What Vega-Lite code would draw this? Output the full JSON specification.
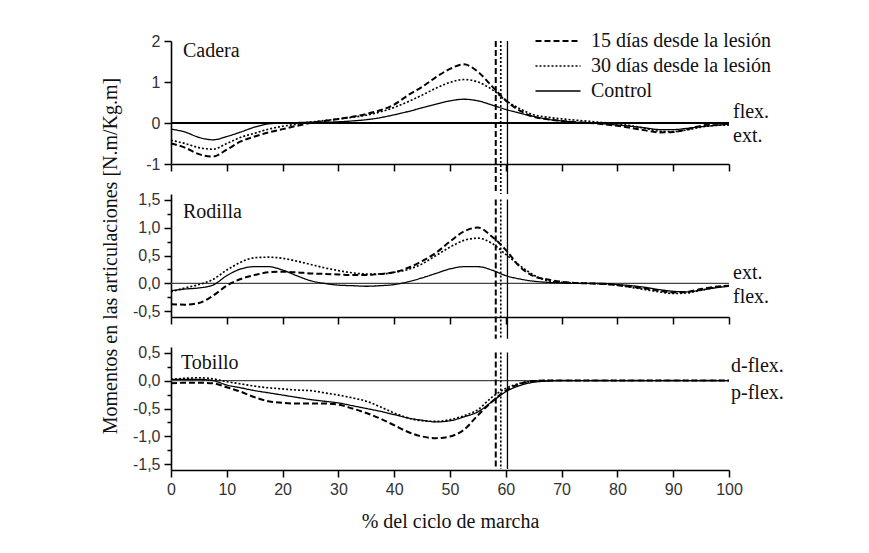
{
  "$schema": "https://vega.github.io/schema/vega-lite/v6.json",
  "padding": {"left": 100, "top": 31, "right": 5, "bottom": 5},
  "background": "#ffffff",
  "bounds": "flush",
  "spacing": 30,
  "config": {
    "view": {"stroke": null},
    "font": "Liberation Serif",
    "axis": {
      "domainColor": "#000000",
      "domainWidth": 1.6,
      "tickColor": "#000000",
      "tickWidth": 1.5,
      "labelFont": "Liberation Sans",
      "labelFontSize": 16,
      "labelColor": "#333333",
      "labelPadding": 4,
      "labelOverlap": false,
      "labelFlush": false,
      "titleFont": "Liberation Serif",
      "titleFontSize": 20,
      "titleFontWeight": "normal",
      "titleColor": "#111111",
      "grid": false
    },
    "legend": {
      "labelFont": "Liberation Serif",
      "labelFontSize": 20,
      "labelColor": "#111111",
      "labelLimit": 500
    },
    "text": {"font": "Liberation Serif", "fontSize": 20, "color": "#111111"}
  },
  "resolve": {
    "scale": {"x": "independent", "y": "independent", "strokeDash": "independent", "strokeWidth": "independent"},
    "legend": {"strokeDash": "independent", "strokeWidth": "independent"}
  },
  "datasets": {
    "cadera": [
      {"x": 0, "15 días desde la lesión": -0.5, "30 días desde la lesión": -0.42, "Control": -0.15},
      {"x": 2.5, "15 días desde la lesión": -0.6, "30 días desde la lesión": -0.5, "Control": -0.22},
      {"x": 5, "15 días desde la lesión": -0.76, "30 días desde la lesión": -0.6, "Control": -0.35},
      {"x": 7.5, "15 días desde la lesión": -0.82, "30 días desde la lesión": -0.64, "Control": -0.41},
      {"x": 10, "15 días desde la lesión": -0.65, "30 días desde la lesión": -0.5, "Control": -0.33},
      {"x": 12.5, "15 días desde la lesión": -0.45, "30 días desde la lesión": -0.35, "Control": -0.22},
      {"x": 15, "15 días desde la lesión": -0.33, "30 días desde la lesión": -0.25, "Control": -0.1},
      {"x": 17.5, "15 días desde la lesión": -0.23, "30 días desde la lesión": -0.15, "Control": -0.02},
      {"x": 20, "15 días desde la lesión": -0.15, "30 días desde la lesión": -0.08, "Control": 0.0},
      {"x": 22.5, "15 días desde la lesión": -0.07, "30 días desde la lesión": -0.03, "Control": 0.01},
      {"x": 25, "15 días desde la lesión": 0.0, "30 días desde la lesión": 0.02, "Control": 0.02},
      {"x": 27.5, "15 días desde la lesión": 0.05, "30 días desde la lesión": 0.06, "Control": 0.02},
      {"x": 30, "15 días desde la lesión": 0.1, "30 días desde la lesión": 0.1, "Control": 0.03},
      {"x": 32.5, "15 días desde la lesión": 0.15, "30 días desde la lesión": 0.14, "Control": 0.05},
      {"x": 35, "15 días desde la lesión": 0.22, "30 días desde la lesión": 0.19, "Control": 0.08},
      {"x": 37.5, "15 días desde la lesión": 0.31, "30 días desde la lesión": 0.27, "Control": 0.13},
      {"x": 40, "15 días desde la lesión": 0.45, "30 días desde la lesión": 0.38, "Control": 0.2},
      {"x": 42.5, "15 días desde la lesión": 0.68, "30 días desde la lesión": 0.52, "Control": 0.28},
      {"x": 45, "15 días desde la lesión": 0.88, "30 días desde la lesión": 0.68, "Control": 0.37},
      {"x": 47.5, "15 días desde la lesión": 1.12, "30 días desde la lesión": 0.85, "Control": 0.46},
      {"x": 50, "15 días desde la lesión": 1.32, "30 días desde la lesión": 0.99, "Control": 0.54},
      {"x": 52.5, "15 días desde la lesión": 1.43, "30 días desde la lesión": 1.06, "Control": 0.58},
      {"x": 55, "15 días desde la lesión": 1.25, "30 días desde la lesión": 1.0, "Control": 0.54},
      {"x": 57.5, "15 días desde la lesión": 0.9, "30 días desde la lesión": 0.82, "Control": 0.44},
      {"x": 60, "15 días desde la lesión": 0.55, "30 días desde la lesión": 0.55, "Control": 0.33},
      {"x": 62.5, "15 días desde la lesión": 0.3, "30 días desde la lesión": 0.35, "Control": 0.24},
      {"x": 65, "15 días desde la lesión": 0.15, "30 días desde la lesión": 0.2, "Control": 0.16},
      {"x": 67.5, "15 días desde la lesión": 0.09, "30 días desde la lesión": 0.14, "Control": 0.09},
      {"x": 70, "15 días desde la lesión": 0.05, "30 días desde la lesión": 0.1, "Control": 0.05},
      {"x": 72.5, "15 días desde la lesión": 0.02, "30 días desde la lesión": 0.07, "Control": 0.02},
      {"x": 75, "15 días desde la lesión": 0.0, "30 días desde la lesión": 0.04, "Control": 0.0},
      {"x": 77.5, "15 días desde la lesión": -0.03, "30 días desde la lesión": 0.01, "Control": -0.02},
      {"x": 80, "15 días desde la lesión": -0.07, "30 días desde la lesión": -0.02, "Control": -0.05},
      {"x": 82.5, "15 días desde la lesión": -0.12, "30 días desde la lesión": -0.07, "Control": -0.08},
      {"x": 85, "15 días desde la lesión": -0.18, "30 días desde la lesión": -0.13, "Control": -0.12},
      {"x": 87.5, "15 días desde la lesión": -0.23, "30 días desde la lesión": -0.2, "Control": -0.16},
      {"x": 90, "15 días desde la lesión": -0.22, "30 días desde la lesión": -0.21, "Control": -0.16},
      {"x": 92.5, "15 días desde la lesión": -0.15, "30 días desde la lesión": -0.17, "Control": -0.13},
      {"x": 95, "15 días desde la lesión": -0.07, "30 días desde la lesión": -0.1, "Control": -0.09},
      {"x": 97.5, "15 días desde la lesión": -0.02, "30 días desde la lesión": -0.06, "Control": -0.06},
      {"x": 100, "15 días desde la lesión": -0.02, "30 días desde la lesión": -0.05, "Control": -0.03}
    ],
    "rodilla": [
      {"x": 0, "15 días desde la lesión": -0.37, "30 días desde la lesión": -0.15, "Control": -0.13},
      {"x": 2.5, "15 días desde la lesión": -0.38, "30 días desde la lesión": -0.08, "Control": -0.1},
      {"x": 5, "15 días desde la lesión": -0.35, "30 días desde la lesión": -0.02, "Control": -0.08},
      {"x": 7.5, "15 días desde la lesión": -0.22, "30 días desde la lesión": 0.07, "Control": -0.03},
      {"x": 10, "15 días desde la lesión": -0.04, "30 días desde la lesión": 0.24, "Control": 0.14},
      {"x": 12.5, "15 días desde la lesión": 0.08, "30 días desde la lesión": 0.38, "Control": 0.26},
      {"x": 15, "15 días desde la lesión": 0.15, "30 días desde la lesión": 0.46, "Control": 0.3},
      {"x": 17.5, "15 días desde la lesión": 0.2, "30 días desde la lesión": 0.47, "Control": 0.3},
      {"x": 20, "15 días desde la lesión": 0.21, "30 días desde la lesión": 0.45, "Control": 0.24},
      {"x": 22.5, "15 días desde la lesión": 0.2, "30 días desde la lesión": 0.4, "Control": 0.14},
      {"x": 25, "15 días desde la lesión": 0.18, "30 días desde la lesión": 0.34, "Control": 0.05},
      {"x": 27.5, "15 días desde la lesión": 0.17, "30 días desde la lesión": 0.28, "Control": 0.0},
      {"x": 30, "15 días desde la lesión": 0.16, "30 días desde la lesión": 0.23, "Control": -0.03},
      {"x": 32.5, "15 días desde la lesión": 0.15, "30 días desde la lesión": 0.19, "Control": -0.04},
      {"x": 35, "15 días desde la lesión": 0.15, "30 días desde la lesión": 0.17, "Control": -0.05},
      {"x": 37.5, "15 días desde la lesión": 0.17, "30 días desde la lesión": 0.17, "Control": -0.04},
      {"x": 40, "15 días desde la lesión": 0.2, "30 días desde la lesión": 0.2, "Control": -0.02},
      {"x": 42.5, "15 días desde la lesión": 0.28, "30 días desde la lesión": 0.25, "Control": 0.03},
      {"x": 45, "15 días desde la lesión": 0.4, "30 días desde la lesión": 0.35, "Control": 0.1},
      {"x": 47.5, "15 días desde la lesión": 0.55, "30 días desde la lesión": 0.5, "Control": 0.18},
      {"x": 50, "15 días desde la lesión": 0.75, "30 días desde la lesión": 0.65, "Control": 0.26},
      {"x": 52.5, "15 días desde la lesión": 0.93, "30 días desde la lesión": 0.77, "Control": 0.3},
      {"x": 55, "15 días desde la lesión": 1.0, "30 días desde la lesión": 0.81, "Control": 0.3},
      {"x": 57.5, "15 días desde la lesión": 0.84, "30 días desde la lesión": 0.72, "Control": 0.24},
      {"x": 60, "15 días desde la lesión": 0.6, "30 días desde la lesión": 0.52, "Control": 0.14},
      {"x": 62.5, "15 días desde la lesión": 0.3, "30 días desde la lesión": 0.32, "Control": 0.08},
      {"x": 65, "15 días desde la lesión": 0.13, "30 días desde la lesión": 0.15, "Control": 0.04},
      {"x": 67.5, "15 días desde la lesión": 0.07, "30 días desde la lesión": 0.05, "Control": 0.02},
      {"x": 70, "15 días desde la lesión": 0.03, "30 días desde la lesión": 0.02, "Control": 0.01},
      {"x": 72.5, "15 días desde la lesión": 0.01, "30 días desde la lesión": 0.01, "Control": 0.0},
      {"x": 75, "15 días desde la lesión": 0.0, "30 días desde la lesión": 0.0, "Control": 0.0},
      {"x": 77.5, "15 días desde la lesión": -0.01, "30 días desde la lesión": -0.01, "Control": 0.0},
      {"x": 80, "15 días desde la lesión": -0.03, "30 días desde la lesión": -0.03, "Control": -0.02},
      {"x": 82.5, "15 días desde la lesión": -0.06, "30 días desde la lesión": -0.07, "Control": -0.04},
      {"x": 85, "15 días desde la lesión": -0.09, "30 días desde la lesión": -0.11, "Control": -0.07},
      {"x": 87.5, "15 días desde la lesión": -0.13, "30 días desde la lesión": -0.15, "Control": -0.11},
      {"x": 90, "15 días desde la lesión": -0.16, "30 días desde la lesión": -0.18, "Control": -0.14},
      {"x": 92.5, "15 días desde la lesión": -0.15, "30 días desde la lesión": -0.17, "Control": -0.15},
      {"x": 95, "15 días desde la lesión": -0.1, "30 días desde la lesión": -0.12, "Control": -0.12},
      {"x": 97.5, "15 días desde la lesión": -0.06, "30 días desde la lesión": -0.07, "Control": -0.08},
      {"x": 100, "15 días desde la lesión": -0.04, "30 días desde la lesión": -0.04, "Control": -0.05}
    ],
    "tobillo": [
      {"x": 0, "15 días desde la lesión": -0.05, "30 días desde la lesión": 0.02, "Control": 0.02},
      {"x": 2.5, "15 días desde la lesión": -0.04, "30 días desde la lesión": 0.04, "Control": 0.02},
      {"x": 5, "15 días desde la lesión": -0.04, "30 días desde la lesión": 0.05, "Control": 0.02},
      {"x": 7.5, "15 días desde la lesión": -0.05, "30 días desde la lesión": 0.03, "Control": 0.0},
      {"x": 10, "15 días desde la lesión": -0.12, "30 días desde la lesión": -0.02, "Control": -0.08},
      {"x": 12.5, "15 días desde la lesión": -0.2, "30 días desde la lesión": -0.06, "Control": -0.13},
      {"x": 15, "15 días desde la lesión": -0.3, "30 días desde la lesión": -0.1, "Control": -0.18},
      {"x": 17.5, "15 días desde la lesión": -0.37, "30 días desde la lesión": -0.13, "Control": -0.22},
      {"x": 20, "15 días desde la lesión": -0.4, "30 días desde la lesión": -0.15, "Control": -0.26},
      {"x": 22.5, "15 días desde la lesión": -0.41, "30 días desde la lesión": -0.17, "Control": -0.3},
      {"x": 25, "15 días desde la lesión": -0.41, "30 días desde la lesión": -0.18, "Control": -0.34},
      {"x": 27.5, "15 días desde la lesión": -0.41, "30 días desde la lesión": -0.22, "Control": -0.37},
      {"x": 30, "15 días desde la lesión": -0.43, "30 días desde la lesión": -0.26, "Control": -0.4},
      {"x": 32.5, "15 días desde la lesión": -0.5, "30 días desde la lesión": -0.31, "Control": -0.45},
      {"x": 35, "15 días desde la lesión": -0.58, "30 días desde la lesión": -0.37, "Control": -0.5},
      {"x": 37.5, "15 días desde la lesión": -0.68, "30 días desde la lesión": -0.47, "Control": -0.55},
      {"x": 40, "15 días desde la lesión": -0.8, "30 días desde la lesión": -0.58, "Control": -0.61},
      {"x": 42.5, "15 días desde la lesión": -0.92, "30 días desde la lesión": -0.67, "Control": -0.67},
      {"x": 45, "15 días desde la lesión": -1.0, "30 días desde la lesión": -0.72, "Control": -0.71},
      {"x": 47.5, "15 días desde la lesión": -1.03, "30 días desde la lesión": -0.73, "Control": -0.74},
      {"x": 50, "15 días desde la lesión": -1.0, "30 días desde la lesión": -0.7, "Control": -0.72},
      {"x": 52.5, "15 días desde la lesión": -0.88, "30 días desde la lesión": -0.63, "Control": -0.65},
      {"x": 55, "15 días desde la lesión": -0.62, "30 días desde la lesión": -0.52, "Control": -0.56},
      {"x": 57.5, "15 días desde la lesión": -0.38, "30 días desde la lesión": -0.3, "Control": -0.38},
      {"x": 60, "15 días desde la lesión": -0.18, "30 días desde la lesión": -0.14, "Control": -0.2},
      {"x": 62.5, "15 días desde la lesión": -0.06, "30 días desde la lesión": -0.05, "Control": -0.09},
      {"x": 65, "15 días desde la lesión": -0.01, "30 días desde la lesión": -0.01, "Control": -0.03},
      {"x": 67.5, "15 días desde la lesión": 0.0, "30 días desde la lesión": 0.0, "Control": -0.01},
      {"x": 70, "15 días desde la lesión": 0.0, "30 días desde la lesión": 0.0, "Control": 0.0},
      {"x": 75, "15 días desde la lesión": 0.0, "30 días desde la lesión": 0.0, "Control": 0.0},
      {"x": 80, "15 días desde la lesión": 0.0, "30 días desde la lesión": 0.0, "Control": 0.0},
      {"x": 85, "15 días desde la lesión": 0.0, "30 días desde la lesión": 0.0, "Control": 0.0},
      {"x": 90, "15 días desde la lesión": 0.0, "30 días desde la lesión": 0.0, "Control": 0.0},
      {"x": 95, "15 días desde la lesión": 0.0, "30 días desde la lesión": 0.0, "Control": 0.0},
      {"x": 100, "15 días desde la lesión": 0.0, "30 días desde la lesión": 0.0, "Control": 0.0}
    ],
    "marcas": [
      {"x": 58.2, "serie": "15 días desde la lesión"},
      {"x": 59.1, "serie": "30 días desde la lesión"},
      {"x": 60.3, "serie": "Control"}
    ]
  },
  "vconcat": [
    {
      "width": 558,
      "height": 123,
      "layer": [
        {
          "data": {"values": [{"ref": 0}]},
          "mark": {"type": "rule", "color": "#000000", "strokeWidth": 2},
          "encoding": {"x": {"datum": 0}, "x2": {"datum": 100}, "y": {"field": "ref", "type": "quantitative"}}
        },
        {
          "data": {"name": "cadera"},
          "transform": [{"fold": ["15 días desde la lesión", "30 días desde la lesión", "Control"], "as": ["serie", "momento"]}],
          "mark": {"type": "line", "interpolate": "monotone", "color": "#000000"},
          "encoding": {
            "x": {"field": "x", "type": "quantitative", "scale": {"domain": [0, 100]},
              "axis": {"values": [0, 5, 10, 15, 20, 25, 30, 35, 40, 45, 50, 55, 60, 65, 70, 75, 80, 85, 90, 95, 100], "labels": false, "title": null,
                "tickSize": {"condition": {"test": "datum.value % 10 === 0", "value": 7}, "value": 4}}},
            "y": {"field": "momento", "type": "quantitative", "scale": {"domain": [-1, 2]},
              "axis": {"values": [-1, -0.5, 0, 0.5, 1, 1.5, 2], "title": null, "labelOverlap": false,
                "labelExpr": "datum.value === 2 ? '2' : datum.value === 1 ? '1' : datum.value === 0 ? '0' : datum.value === -1 ? '-1' : ''",
                "tickSize": {"condition": {"test": "datum.value % 1 === 0", "value": 7}, "value": 4}}},
            "strokeDash": {"field": "serie", "type": "nominal",
              "scale": {"domain": ["15 días desde la lesión", "30 días desde la lesión", "Control"], "range": [[6, 3], [2, 2], [1, 0]]},
              "legend": {"title": null, "orient": "none", "legendX": 377, "legendY": -10, "symbolType": "M-3,0H3", "symbolSize": 225, "symbolFillColor": "transparent", "symbolStrokeColor": "#000000", "rowPadding": 5, "labelOffset": 23}},
            "strokeWidth": {"field": "serie", "type": "nominal",
              "scale": {"domain": ["15 días desde la lesión", "30 días desde la lesión", "Control"], "range": [2, 1.3, 1.6]},
              "legend": {"title": null, "orient": "none", "legendX": 377, "legendY": -10, "symbolType": "M-3,0H3", "symbolSize": 225, "symbolFillColor": "transparent", "symbolStrokeColor": "#000000", "rowPadding": 5, "labelOffset": 23}}
          }
        },
        {
          "data": {"name": "marcas"},
          "mark": {"type": "rule", "color": "#000000"},
          "encoding": {
            "x": {"field": "x", "type": "quantitative"},
            "y": {"datum": 2},
            "y2": {"datum": -1.73},
            "strokeDash": {"field": "serie", "type": "nominal"},
            "strokeWidth": {"field": "serie", "type": "nominal"}
          }
        },
        {
          "data": {"values": [{"etiqueta": "Cadera"}]},
          "mark": {"type": "text", "align": "left", "baseline": "middle", "dx": 12, "dy": 10, "font": "Liberation Serif"},
          "encoding": {"x": {"datum": 0}, "y": {"datum": 2}, "text": {"field": "etiqueta"}}
        },
        {
          "data": {"values": [{"etiqueta": "flex."}]},
          "mark": {"type": "text", "align": "left", "baseline": "middle", "dx": 4, "dy": -11, "font": "Liberation Serif"},
          "encoding": {"x": {"datum": 100}, "y": {"datum": 0}, "text": {"field": "etiqueta"}}
        },
        {
          "data": {"values": [{"etiqueta": "ext."}]},
          "mark": {"type": "text", "align": "left", "baseline": "middle", "dx": 4, "dy": 13, "font": "Liberation Serif"},
          "encoding": {"x": {"datum": 100}, "y": {"datum": 0}, "text": {"field": "etiqueta"}}
        }
      ]
    },
    {
      "width": 558,
      "height": 123,
      "resolve": {"axis": {"y": "independent"}},
      "layer": [
        {
          "data": {"values": [{"ref": 0}]},
          "mark": {"type": "rule", "color": "#444444", "strokeWidth": 1.2},
          "encoding": {"x": {"datum": 0}, "x2": {"datum": 100},
            "y": {"field": "ref", "type": "quantitative", "scale": {"domain": [-0.5, 1.5]},
              "axis": {"orient": "left", "values": [-0.25, 0.25, 0.75, 1.25], "labels": false, "domain": false, "tickSize": 4, "title": null}}}
        },
        {
          "data": {"name": "rodilla"},
          "transform": [{"fold": ["15 días desde la lesión", "30 días desde la lesión", "Control"], "as": ["serie", "momento"]}],
          "mark": {"type": "line", "interpolate": "monotone", "color": "#000000"},
          "encoding": {
            "x": {"field": "x", "type": "quantitative", "scale": {"domain": [0, 100]},
              "axis": {"values": [0, 5, 10, 15, 20, 25, 30, 35, 40, 45, 50, 55, 60, 65, 70, 75, 80, 85, 90, 95, 100], "labels": false, "title": null,
                "tickSize": {"condition": {"test": "datum.value % 10 === 0", "value": 7}, "value": 4}}},
            "y": {"field": "momento", "type": "quantitative", "scale": {"domain": [-0.5, 1.5]},
              "axis": {"orient": "left", "values": [-0.5, 0, 0.5, 1, 1.5], "title": "Momentos en las articulaciones [N.m/Kg.m]", "titlePadding": 12, "titleFont": "Liberation Serif", "labelOverlap": false, "tickSize": 7,
                "labelExpr": "datum.value === 1.5 ? '1,5' : datum.value === 1 ? '1,0' : datum.value === 0.5 ? '0,5' : datum.value === 0 ? '0,0' : datum.value === -0.5 ? '-0,5' : ''"}},
            "strokeDash": {"field": "serie", "type": "nominal",
              "scale": {"domain": ["15 días desde la lesión", "30 días desde la lesión", "Control"], "range": [[6, 3], [2, 2], [1, 0]]}, "legend": null},
            "strokeWidth": {"field": "serie", "type": "nominal",
              "scale": {"domain": ["15 días desde la lesión", "30 días desde la lesión", "Control"], "range": [2, 1.3, 1.6]}, "legend": null}
          }
        },
        {
          "data": {"name": "marcas"},
          "mark": {"type": "rule", "color": "#000000"},
          "encoding": {
            "x": {"field": "x", "type": "quantitative"},
            "y": {"datum": 1.5, "axis": null},
            "y2": {"datum": -0.99},
            "strokeDash": {"field": "serie", "type": "nominal"},
            "strokeWidth": {"field": "serie", "type": "nominal"}
          }
        },
        {
          "data": {"values": [{"etiqueta": "Rodilla"}]},
          "mark": {"type": "text", "align": "left", "baseline": "middle", "dx": 12, "dy": 12, "font": "Liberation Serif"},
          "encoding": {"x": {"datum": 0}, "y": {"datum": 1.5, "axis": null}, "text": {"field": "etiqueta"}}
        },
        {
          "data": {"values": [{"etiqueta": "ext."}]},
          "mark": {"type": "text", "align": "left", "baseline": "middle", "dx": 4, "dy": -10, "font": "Liberation Serif"},
          "encoding": {"x": {"datum": 100}, "y": {"datum": 0, "axis": null}, "text": {"field": "etiqueta"}}
        },
        {
          "data": {"values": [{"etiqueta": "flex."}]},
          "mark": {"type": "text", "align": "left", "baseline": "middle", "dx": 4, "dy": 14, "font": "Liberation Serif"},
          "encoding": {"x": {"datum": 100}, "y": {"datum": 0, "axis": null}, "text": {"field": "etiqueta"}}
        }
      ]
    },
    {
      "width": 558,
      "height": 123,
      "resolve": {"axis": {"y": "independent"}},
      "layer": [
        {
          "data": {"values": [{"ref": 0}]},
          "mark": {"type": "rule", "color": "#444444", "strokeWidth": 1.2},
          "encoding": {"x": {"datum": 0}, "x2": {"datum": 100},
            "y": {"field": "ref", "type": "quantitative", "scale": {"domain": [-1.5, 0.5]},
              "axis": {"orient": "left", "values": [-1.25, -0.75, -0.25, 0.25], "labels": false, "domain": false, "tickSize": 4, "title": null}}}
        },
        {
          "data": {"name": "tobillo"},
          "transform": [{"fold": ["15 días desde la lesión", "30 días desde la lesión", "Control"], "as": ["serie", "momento"]}],
          "mark": {"type": "line", "interpolate": "monotone", "color": "#000000"},
          "encoding": {
            "x": {"field": "x", "type": "quantitative", "scale": {"domain": [0, 100]},
              "axis": {"values": [0, 5, 10, 15, 20, 25, 30, 35, 40, 45, 50, 55, 60, 65, 70, 75, 80, 85, 90, 95, 100], "title": "% del ciclo de marcha", "titlePadding": 14, "titleFont": "Liberation Serif", "labelOverlap": false, "labelFlush": false,
                "labelExpr": "datum.value % 10 === 0 ? datum.label : ''",
                "tickSize": {"condition": {"test": "datum.value % 10 === 0", "value": 7}, "value": 4}}},
            "y": {"field": "momento", "type": "quantitative", "scale": {"domain": [-1.5, 0.5]},
              "axis": {"orient": "left", "values": [-1.5, -1, -0.5, 0, 0.5], "title": null, "labelOverlap": false, "tickSize": 7,
                "labelExpr": "datum.value === 0.5 ? '0,5' : datum.value === 0 ? '0,0' : datum.value === -0.5 ? '-0,5' : datum.value === -1 ? '-1,0' : datum.value === -1.5 ? '-1,5' : ''"}},
            "strokeDash": {"field": "serie", "type": "nominal",
              "scale": {"domain": ["15 días desde la lesión", "30 días desde la lesión", "Control"], "range": [[6, 3], [2, 2], [1, 0]]}, "legend": null},
            "strokeWidth": {"field": "serie", "type": "nominal",
              "scale": {"domain": ["15 días desde la lesión", "30 días desde la lesión", "Control"], "range": [2, 1.3, 1.6]}, "legend": null}
          }
        },
        {
          "data": {"name": "marcas"},
          "mark": {"type": "rule", "color": "#000000"},
          "encoding": {
            "x": {"field": "x", "type": "quantitative"},
            "y": {"datum": 0.5, "axis": null},
            "y2": {"datum": -1.58},
            "strokeDash": {"field": "serie", "type": "nominal"},
            "strokeWidth": {"field": "serie", "type": "nominal"}
          }
        },
        {
          "data": {"values": [{"etiqueta": "Tobillo"}]},
          "mark": {"type": "text", "align": "left", "baseline": "middle", "dx": 10, "dy": 10, "font": "Liberation Serif"},
          "encoding": {"x": {"datum": 0}, "y": {"datum": 0.5, "axis": null}, "text": {"field": "etiqueta"}}
        },
        {
          "data": {"values": [{"etiqueta": "d-flex."}]},
          "mark": {"type": "text", "align": "left", "baseline": "middle", "dx": 2, "dy": -15, "font": "Liberation Serif"},
          "encoding": {"x": {"datum": 100}, "y": {"datum": 0, "axis": null}, "text": {"field": "etiqueta"}}
        },
        {
          "data": {"values": [{"etiqueta": "p-flex."}]},
          "mark": {"type": "text", "align": "left", "baseline": "middle", "dx": 2, "dy": 12, "font": "Liberation Serif"},
          "encoding": {"x": {"datum": 100}, "y": {"datum": 0, "axis": null}, "text": {"field": "etiqueta"}}
        }
      ]
    }
  ]
}
